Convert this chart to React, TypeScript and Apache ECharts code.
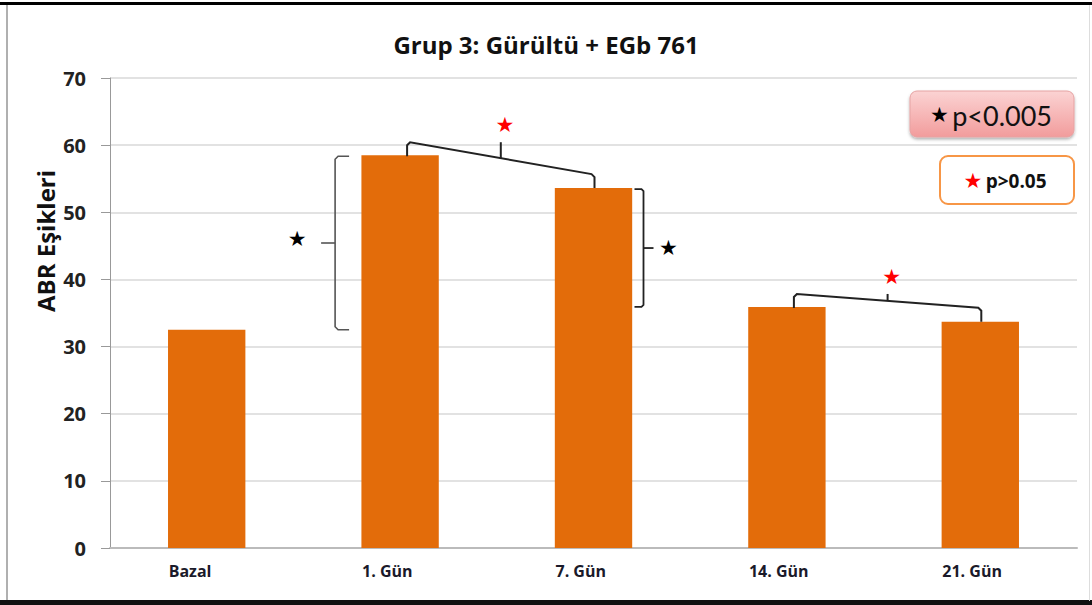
import { useEffect, useRef } from "react";
import * as echarts from "echarts";

const categories = ["Bazal", "1. Gün", "7. Gün", "14. Gün", "21. Gün"];
const abrValues = [32.5, 58.5, 53.6, 35.9, 33.7];
const yMin = 0;
const yMax = 70;
const yInterval = 10;
const chartTitle = "Grup 3: Gürültü + EGb 761";
const yAxisName = "ABR Eşikleri";
const legendStrong = "p<0.005";
const legendWeak = "p>0.05";
// significance markers: side brackets (bar index, compared bar index)
const sideBrackets = [
  { bar: 1, other: 0, side: "left" },
  { bar: 2, other: 3, side: "right" },
];
// top brackets between neighbouring bars (p>0.05)
const topBrackets = [
  [1, 2],
  [3, 4],
];

const FONT = "'Open Sans', Lato, sans-serif";
const LFONT = "Lato, 'Open Sans', sans-serif";
const STAR_FONT = "'DejaVu Sans', sans-serif";

export default function App() {
  const ref = useRef<HTMLDivElement>(null);

  useEffect(() => {
    document.body.style.margin = "0";
    if (!ref.current) return;
    const chart = echarts.init(ref.current, undefined, { renderer: "svg" });

    const renderItem = (params: any, api: any) => {
      const children: any[] = [];
      const lineStyleDark = { stroke: "#222", lineWidth: 2, fill: "none" };
      const lineStyleSide = { stroke: "#555", lineWidth: 1.6, fill: "none" };

      sideBrackets.forEach((b) => {
        const top = api.coord([b.bar, abrValues[b.bar]]);
        const bot = api.coord([b.bar, abrValues[b.other]]);
        const yTop = top[1] + 1;
        const yBot = bot[1];
        const ym = (yTop + yBot) / 2;
        if (b.side === "left") {
          const x = top[0] - 65;
          children.push({
            type: "polyline",
            shape: { points: [[x + 14, yTop], [x + 3, yTop], [x, yTop + 3], [x, yBot - 3], [x + 3, yBot], [x + 14, yBot]] },
            style: lineStyleSide,
          });
          children.push({ type: "line", shape: { x1: x, y1: ym, x2: x - 14, y2: ym }, style: lineStyleSide });
          children.push({
            type: "text",
            x: x - 38,
            y: ym - 4,
            style: { text: "★", fill: "#000", font: `21px ${STAR_FONT}`, align: "center", verticalAlign: "middle" },
          });
        } else {
          const x = top[0] + 50;
          children.push({
            type: "polyline",
            shape: { points: [[x - 9, yTop], [x - 2, yTop], [x, yTop + 2], [x, yBot - 2], [x - 2, yBot], [x - 9, yBot]] },
            style: { ...lineStyleDark, lineWidth: 1.8 },
          });
          children.push({ type: "line", shape: { x1: x, y1: ym, x2: x + 10, y2: ym }, style: { ...lineStyleDark, lineWidth: 1.8 } });
          children.push({
            type: "text",
            x: x + 25,
            y: ym,
            style: { text: "★", fill: "#000", font: `21px ${STAR_FONT}`, align: "center", verticalAlign: "middle" },
          });
        }
      });

      topBrackets.forEach(([a, b]) => {
        const pa = api.coord([a, abrValues[a]]);
        const pb = api.coord([b, abrValues[b]]);
        const xa = pa[0] + 7;
        const xb = pb[0] + 1;
        const ya0 = pa[1] + 1;
        const yb0 = pb[1];
        const ya1 = ya0 - 14;
        const yb1 = yb0 - 14;
        const xm = (xa + xb) / 2;
        const ymLine = (ya1 + yb1) / 2;
        children.push({
          type: "polyline",
          shape: { points: [[xa, ya0], [xa, ya1 + 3], [xa + 3, ya1], [xb - 3, yb1], [xb, yb1 + 3], [xb, yb0]] },
          style: lineStyleDark,
        });
        children.push({ type: "line", shape: { x1: xm, y1: ymLine, x2: xm, y2: ya1 }, style: lineStyleDark });
        children.push({
          type: "text",
          x: xm + 4,
          y: ya1 - 17,
          style: { text: "★", fill: "#ff0000", font: `21px ${STAR_FONT}`, align: "center", verticalAlign: "middle" },
        });
      });

      return { type: "group", children };
    };

    chart.setOption({
      animation: false,
      backgroundColor: "#fff",
      title: {
        text: chartTitle,
        left: "center",
        top: 27,
        textStyle: { fontFamily: FONT, fontWeight: "bold", fontSize: 24, color: "#111" },
      },
      grid: { left: 110, right: 15, top: 78, bottom: 57, containLabel: false },
      xAxis: {
        type: "category",
        data: categories,
        axisLine: { show: true, lineStyle: { color: "#bbb", width: 2 } },
        axisTick: { show: false },
        axisLabel: {
          fontFamily: FONT,
          fontWeight: "bold",
          fontSize: 16,
          color: "#1a1a2a",
          margin: 15,
          align: "left",
          padding: [0, 0, 0, -38],
        },
      },
      yAxis: {
        type: "value",
        min: yMin,
        max: yMax,
        interval: yInterval,
        axisLine: { show: true, lineStyle: { color: "#999", width: 1 } },
        axisTick: { show: true, inside: false, length: 9, lineStyle: { color: "#999" } },
        axisLabel: { fontFamily: FONT, fontWeight: "bold", fontSize: 20, color: "#222", margin: 24 },
        splitLine: { show: true, lineStyle: { color: "#d9d9d9", width: 1.5 } },
      },
      series: [
        {
          type: "bar",
          data: abrValues,
          barWidth: "40%",
          itemStyle: { color: "#e36c0a" },
        },
        {
          type: "custom",
          coordinateSystem: "cartesian2d",
          data: [[0, 0]],
          renderItem,
          clip: false,
          silent: true,
          z: 10,
        },
      ],
      graphic: [
        { type: "rect", shape: { x: 0, y: 2, width: 1092, height: 3 }, style: { fill: "#000" } },
        { type: "rect", shape: { x: 6, y: 5, width: 2, height: 596 }, style: { fill: "#b0b0b0" } },
        { type: "rect", shape: { x: 0, y: 600, width: 1092, height: 5 }, style: { fill: "#111" } },
        { type: "rect", shape: { x: 1089, y: 5, width: 1, height: 596 }, style: { fill: "#ddd" } },
        {
          type: "text",
          x: 45,
          y: 241,
          rotation: Math.PI / 2,
          style: {
            text: yAxisName,
            font: `bold 24px ${FONT}`,
            fill: "#111",
            align: "center",
            verticalAlign: "middle",
          },
        },
        {
          type: "rect",
          shape: { x: 910, y: 91, width: 164, height: 46, r: 7 },
          style: {
            fill: {
              type: "linear",
              x: 0,
              y: 0,
              x2: 0,
              y2: 1,
              colorStops: [
                { offset: 0, color: "#fbd3d3" },
                { offset: 1, color: "#f29c9c" },
              ],
            },
            stroke: "#e6a3a3",
            lineWidth: 1,
            shadowBlur: 3,
            shadowOffsetY: 2,
            shadowColor: "rgba(0,0,0,0.3)",
          },
          z: 20,
        },
        {
          type: "text",
          x: 991,
          y: 115,
          z: 21,
          style: {
            text: `{s|★} {t|${legendStrong}}`,
            align: "center",
            verticalAlign: "middle",
            rich: {
              s: { fontFamily: STAR_FONT, fontSize: 21, fill: "#000", color: "#000" },
              t: { fontFamily: LFONT, fontSize: 27, fill: "#111", color: "#111" },
            },
          },
        },
        {
          type: "rect",
          shape: { x: 940, y: 156, width: 134, height: 48, r: 8 },
          style: { fill: "#fff", stroke: "#f79646", lineWidth: 2 },
          z: 20,
        },
        {
          type: "text",
          x: 1005,
          y: 181,
          z: 21,
          style: {
            text: `{s|★} {t|${legendWeak}}`,
            align: "center",
            verticalAlign: "middle",
            rich: {
              s: { fontFamily: STAR_FONT, fontSize: 21, fill: "#ff0000", color: "#ff0000" },
              t: { fontFamily: FONT, fontSize: 19, fontWeight: "bold", fill: "#111", color: "#111" },
            },
          },
        },
      ],
    });

    return () => chart.dispose();
  }, []);

  return <div ref={ref} style={{ width: 1092, height: 605 }} />;
}
